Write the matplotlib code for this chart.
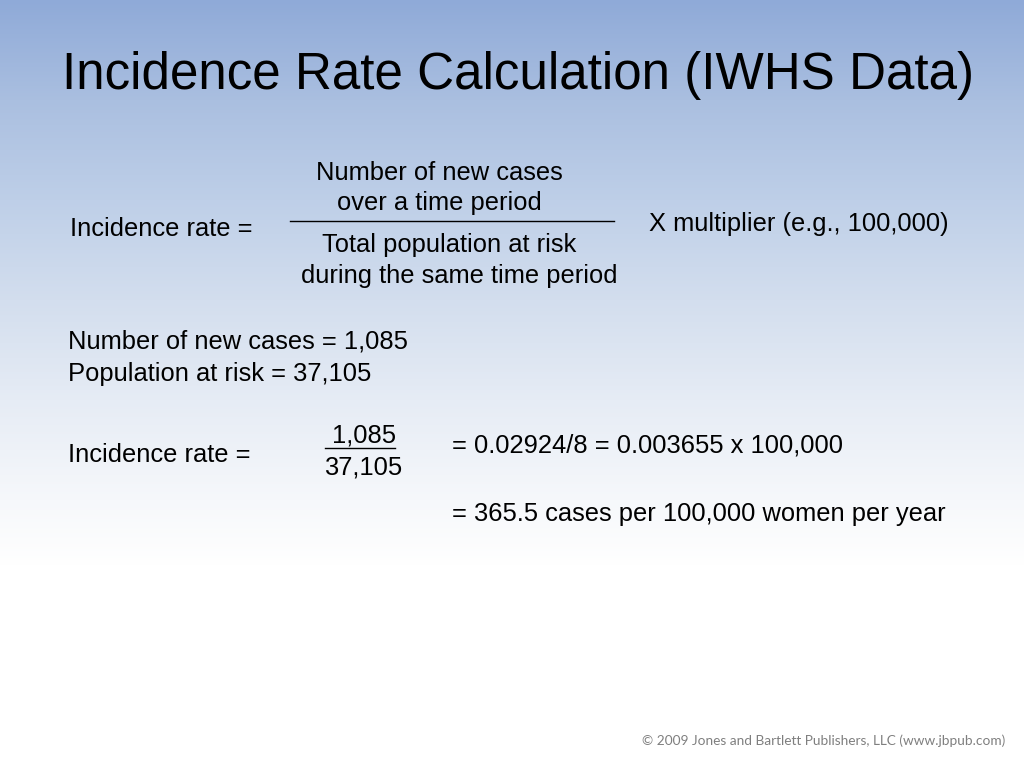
import matplotlib.pyplot as plt
import numpy as np

plt.rcParams['font.family'] = ['Liberation Sans', 'DejaVu Sans']

title = 'Incidence Rate Calculation (IWHS Data)'
# text, x, y, align
lines = [
    ('Number of new cases', 439, 173, 'center'),
    ('over a time period', 439, 203, 'center'),
    ('Total population at risk', 449, 245, 'center'),
    ('during the same time period', 459, 276, 'center'),
    ('Incidence rate =', 70, 229, 'left'),
    ('X multiplier (e.g., 100,000)', 649, 224, 'left'),
    ('Number of new cases = 1,085', 68, 342, 'left'),
    ('Population at risk = 37,105', 68, 374, 'left'),
    ('Incidence rate =', 68, 455, 'left'),
    ('1,085', 364, 436, 'center'),
    ('37,105', 363, 468, 'center'),
    ('= 0.02924/8 = 0.003655 x 100,000', 452, 446, 'left'),
    ('= 365.5 cases per 100,000 women per year', 452, 514, 'left'),
]
rules = [(290, 614, 221), (325, 395, 448)]
credit = '© 2009 Jones and Bartlett Publishers, LLC (www.jbpub.com)'

# background colours down the slide
grad_y = [0, 100, 200, 300, 400, 500, 565, 768]
grad_r = [143, 170, 190, 211, 230, 246, 255, 255]
grad_g = [170, 191, 207, 222, 236, 248, 255, 255]
grad_b = [216, 224, 232, 238, 245, 251, 255, 255]

fig = plt.figure(figsize=(10.24, 7.68), dpi=100)
ax = fig.add_axes([0, 0, 1, 1])
ax.set_xlim(0, 1024)
ax.set_ylim(768, 0)
ax.axis('off')

ys = np.arange(768)
grad = np.stack([np.interp(ys, grad_y, grad_r), np.interp(ys, grad_y, grad_g), np.interp(ys, grad_y, grad_b)], axis=1) / 255
ax.imshow(grad[:, None, :], extent=[0, 1024, 768, 0], aspect='auto', zorder=0)

ax.text(517.5, 76, title, fontsize=36.8, ha='center', va='center', color='black')
for txt, x, y, ha in lines:
    ax.text(x, y, txt, fontsize=18.4, ha=ha, va='center', color='black')
for x0, x1, y in rules:
    ax.plot([x0, x1], [y, y], color='black', lw=1)
ax.text(1005, 741, credit, fontsize=9.8, ha='right', va='center', color='#7f7f7f', family=['Lato', 'DejaVu Sans'])

plt.savefig('out.png', dpi=100)
